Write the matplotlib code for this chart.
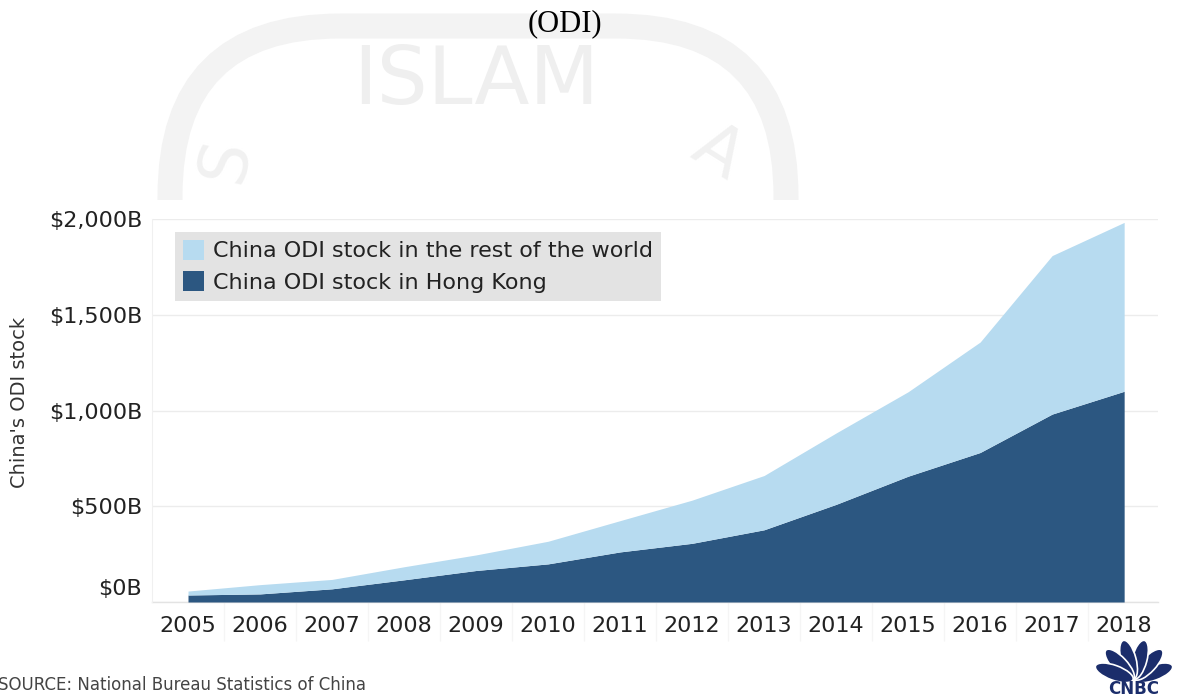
import math
import matplotlib
matplotlib.use("Agg")
import matplotlib.pyplot as plt
from matplotlib.patches import Patch, Rectangle, FancyBboxPatch, Ellipse
from matplotlib.transforms import ScaledTranslation

# China outward direct investment stock, USD billions
years = [2005, 2006, 2007, 2008, 2009, 2010, 2011, 2012, 2013, 2014, 2015, 2016, 2017, 2018]
total_stock = [57.2, 90.6, 117.9, 184.0, 245.8, 317.2, 424.8, 531.9, 660.5, 882.6, 1097.9, 1357.4, 1809.0, 1982.3]
hong_kong = [36.5, 42.2, 68.8, 115.8, 164.5, 199.0, 261.5, 306.4, 377.1, 509.9, 656.9, 780.7, 981.3, 1100.4]

y_ticks = [0, 500, 1000, 1500, 2000]
y_tick_labels = ["$0B", "$500B", "$1,000B", "$1,500B", "$2,000B"]
legend_labels = ["China ODI stock in the rest of the world", "China ODI stock in Hong Kong"]

light_blue = "#b7dbf0"
dark_blue = "#2c5781"
navy = "#1b2d6b"

W, H = 1180, 699
fig = plt.figure(figsize=(W / 100, H / 100), dpi=100)
fig.patch.set_facecolor("white")

# background layer in pixel units (y downwards)
bg = fig.add_axes([0, 0, 1, 1], zorder=-1)
bg.set_xlim(0, W)
bg.set_ylim(H, 0)
bg.axis("off")

# faint watermark above the chart
wm = "#f3f3f3"
bg.add_patch(FancyBboxPatch((170, 26), 616, 400, boxstyle="round,pad=0,rounding_size=170",
                            fill=False, ec=wm, lw=18, zorder=1))
bg.text(476, 82, "ISLAM", fontsize=58, color="#efefef", ha="center", va="center", zorder=1)
bg.text(225, 160, "S", fontsize=48, color="#f1f1f1", ha="center", va="center", rotation=78, zorder=1)
bg.text(718, 152, "A", fontsize=48, color="#f1f1f1", ha="center", va="center", rotation=-32, zorder=1)
bg.add_patch(Rectangle((0, 200), W, H - 200, fc="white", ec="none", zorder=2))

bg.text(565, 24, "(ODI)", fontsize=22, family="Liberation Serif", ha="center", va="center",
        color="black", zorder=3)
bg.text(-2, 685, "SOURCE: National Bureau Statistics of China", fontsize=12, color="#444444",
        ha="left", va="center", zorder=3)

# CNBC peacock
cx, cy = 1134, 680
for ang in [20, 47, 75, 105, 133, 160]:
    r = 21
    ex = cx + r * math.cos(math.radians(ang))
    ey = cy - r * math.sin(math.radians(ang))
    bg.add_patch(Ellipse((ex, ey), 40, 15, angle=-ang, fc=navy, ec="white", lw=1.2, zorder=3))
bg.text(cx, 689, "CNBC", fontsize=12, fontweight="heavy", color=navy, ha="center", va="center",
        zorder=4)

# main chart
ax = fig.add_axes([152 / W, (H - 602) / H, (1158 - 152) / W, (602 - 219) / H])
ax.set_facecolor("none")
ax.fill_between(years, 0, hong_kong, color=dark_blue, lw=0, zorder=2)
ax.fill_between(years, hong_kong, total_stock, color=light_blue, lw=0, zorder=2)

ax.set_xlim(2004.5, 2018.47)
ax.set_ylim(0, 2000)
for s in ["top", "right", "bottom"]:
    ax.spines[s].set_visible(False)
ax.spines["left"].set_color("#f0f0f0")
ax.axhline(0, color="#e3e3e3", lw=1, zorder=1, clip_on=False)
ax.set_yticks(y_ticks)
ax.set_yticklabels(y_tick_labels)
ax.yaxis.grid(True, color="#ececec", lw=1)
ax.set_axisbelow(True)
ax.tick_params(axis="y", length=0, pad=7, labelsize=16, labelcolor="#222222")
ax.set_xticks(years)
ax.set_xticklabels([str(y) for y in years])
ax.tick_params(axis="x", length=0, pad=10, labelsize=16, labelcolor="#222222")
ax.set_xticks([y + 0.5 for y in years[:-1]], minor=True)
ax.tick_params(axis="x", which="minor", length=28, width=1, color="#f5f5f5", direction="out")

# the $0B label sits a bit above its gridline
lab0 = ax.get_yticklabels()[0]
lab0.set_transform(lab0.get_transform() + ScaledTranslation(0, 15 / 100, fig.dpi_scale_trans))

ax.set_ylabel("China's ODI stock", fontsize=14, color="#333333")
ax.yaxis.set_label_coords(-0.122, 0.52)

handles = [Patch(fc=light_blue, ec="none"), Patch(fc=dark_blue, ec="none")]
leg = ax.legend(handles, legend_labels, loc="upper left", bbox_to_anchor=(175 / W, (H - 232) / H),
                bbox_transform=fig.transFigure, fontsize=16, frameon=True, fancybox=False,
                borderpad=0.35, borderaxespad=0, handlelength=0.95, handleheight=1.0,
                handletextpad=0.4, labelspacing=0.45)
leg.get_frame().set_facecolor("#e3e3e3")
leg.get_frame().set_edgecolor("none")
leg.get_frame().set_alpha(1)
for t in leg.get_texts():
    t.set_color("#222222")

fig.savefig("out.png", dpi=100)
